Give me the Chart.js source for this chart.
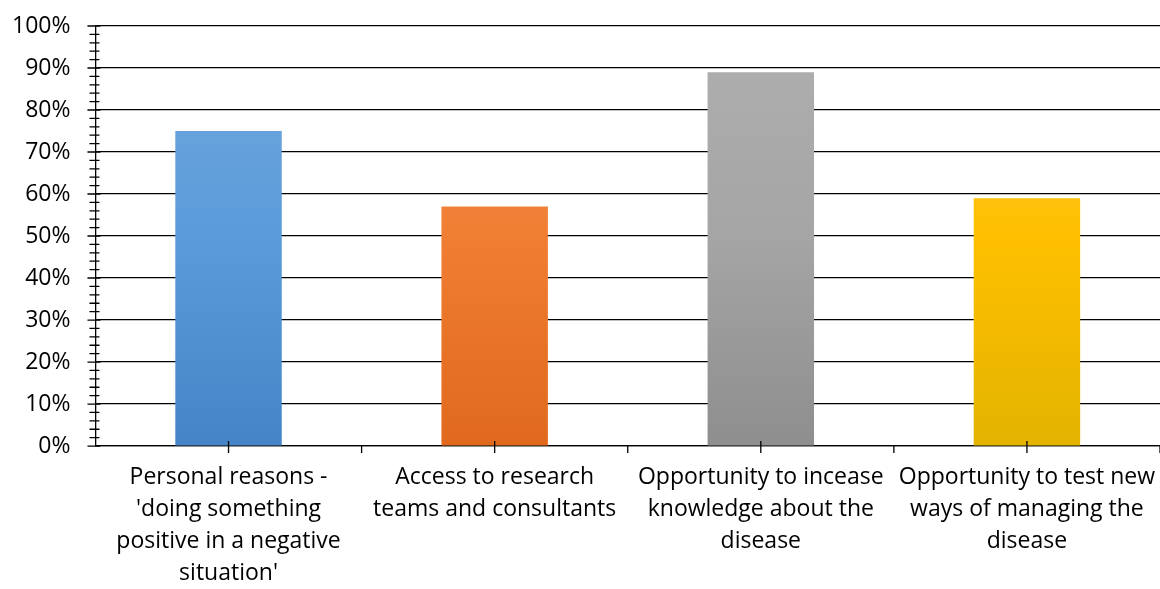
<!DOCTYPE html>
<html lang="en">
  <head>
    <meta charset="UTF-8" />
    <title>Reasons for taking part</title>
    <style>
      body { margin: 0; background: #fff; }
      .wrap { width: 1160px; height: 589px; }
    </style>
  </head>
  <body>
    <div class="wrap">
      <canvas id="myChart"></canvas>
    </div>

    <script src="https://cdn.jsdelivr.net/npm/chart.js@4/dist/chart.umd.min.js"></script>
    <script>
      // categories, split into the lines they are printed on
      var categories = [
        ["Personal reasons -", "'doing something", "positive in a negative", "situation'"],
        ["Access to research", "teams and consultants"],
        ["Opportunity to incease", "knowledge about the", "disease"],
        ["Opportunity to test new", "ways of managing the", "disease"],
      ];
      var values = [75, 57, 89, 59];
      var yTicks = [0, 10, 20, 30, 40, 50, 60, 70, 80, 90, 100];

      // top / middle / bottom colour of each bar
      var barShades = [
        ["#72A8DD", "#5A9BDA", "#4585C7"],
        ["#F1945E", "#F07E32", "#E0691D"],
        ["#AFAFAF", "#A5A5A5", "#8E8E8E"],
        ["#FFC540", "#FFC000", "#E3B300"],
      ];

      function barColor(context) {
        var chart = context.chart;
        var area = chart.chartArea;
        var shades = barShades[context.dataIndex];
        if (!area || !shades) return shades ? shades[1] : "#999";
        var g = chart.ctx.createLinearGradient(0, area.top, 0, area.bottom);
        g.addColorStop(0, shades[0]);
        g.addColorStop(0.5, shades[1]);
        g.addColorStop(1, shades[2]);
        return g;
      }

      // chart.js reserves room for the wide edge labels and counts the tick
      // padding twice, the original does neither
      function tightFit(scale) {
        scale.paddingLeft = 0;
        scale.paddingRight = 0;
        scale.paddingTop = 0;
        scale.paddingBottom = 0;
        if (scale.isHorizontal()) scale.height -= scale.options.ticks.padding;
        else scale.width -= scale.options.ticks.padding;
      }

      // little tick marks like the office chart: crossing the y axis, and
      // up at bar centres / down at category edges on the x axis
      var tickMarks = {
        id: "tickMarks",
        afterDraw: function (chart) {
          var ctx = chart.ctx;
          var x = chart.scales.x;
          var y = chart.scales.y;
          var axisX = chart.chartArea.left;
          var axisY = chart.chartArea.bottom;
          ctx.save();
          ctx.strokeStyle = "#000";
          ctx.lineWidth = 1.3;
          ctx.beginPath();
          for (var v = y.min; v <= y.max; v += 2) {
            var py = y.getPixelForValue(v);
            var major = v % 10 === 0;
            ctx.moveTo(axisX - (major ? 8 : 6), py);
            ctx.lineTo(axisX + (major ? 5 : 4), py);
          }
          for (var i = 0; i < categories.length; i++) {
            var cx = x.getPixelForValue(i);
            ctx.moveTo(cx, axisY - 5);
            ctx.lineTo(cx, axisY + 7);
            var half = (x.getPixelForValue(1) - x.getPixelForValue(0)) / 2;
            ctx.moveTo(cx + half, axisY);
            ctx.lineTo(cx + half, axisY + 7);
          }
          ctx.stroke();
          ctx.restore();
        },
      };

      function createChart() {
        var ctx = document.getElementById("myChart").getContext("2d");
        var myBarChart = new Chart(ctx, {
          type: "bar",
          data: {
            labels: categories,
            datasets: [
              {
                data: values,
                backgroundColor: barColor,
                borderWidth: 0,
                barPercentage: 0.4,
                categoryPercentage: 1,
              },
            ],
          },
          options: {
            responsive: true,
            maintainAspectRatio: false,
            animation: false,
            layout: { padding: { top: 26, right: 0, left: 12, bottom: 0 } },
            plugins: {
              legend: { display: false },
              tooltip: { enabled: false },
            },
            scales: {
              x: {
                offset: true,
                afterFit: tightFit,
                grid: { display: false, drawTicks: false },
                border: { display: true, color: "#000", width: 1.3 },
                ticks: {
                  color: "#000",
                  font: { family: "'Open Sans', sans-serif", size: 23, lineHeight: 1.38 },
                  padding: 16,
                  maxRotation: 0,
                  autoSkip: false,
                },
              },
              y: {
                min: 0,
                max: 100,
                afterFit: tightFit,
                afterBuildTicks: function (scale) {
                  scale.ticks = yTicks.map(function (v) {
                    return { value: v };
                  });
                },
                grid: { color: "#000", lineWidth: 1.3, drawTicks: false },
                border: { display: true, color: "#000", width: 1.3 },
                ticks: {
                  color: "#000",
                  font: { family: "'Open Sans', sans-serif", size: 23 },
                  padding: 25,
                  callback: function (v) {
                    return v + "%";
                  },
                },
              },
            },
          },
          plugins: [tickMarks],
        });
      }
      createChart();
    </script>
  </body>
</html>
